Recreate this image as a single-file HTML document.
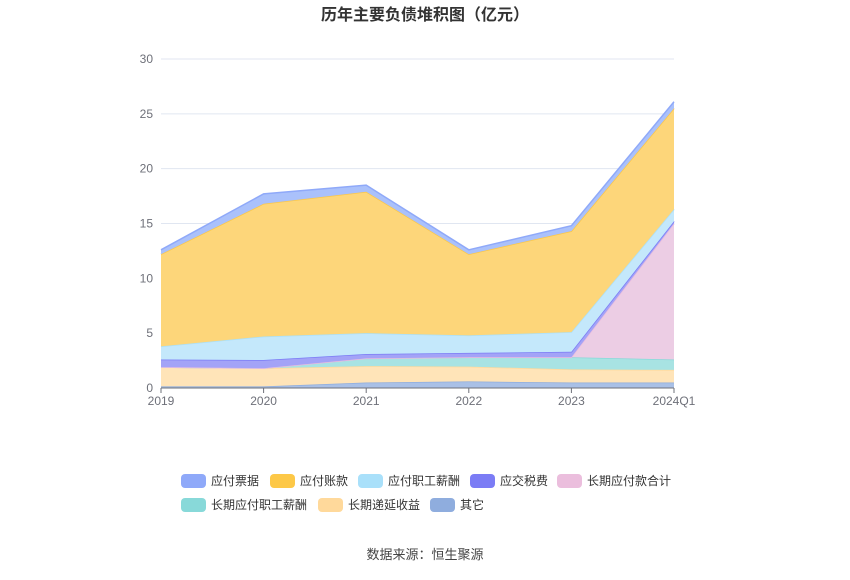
<!DOCTYPE html>
<html><head><meta charset="utf-8"><style>
body{margin:0;background:#fff;font-family:"Liberation Sans","Noto Sans CJK SC",sans-serif;}
#c{position:relative;width:850px;height:575px;}
</style></head><body>
<div id="c">
<svg id="s" width="850" height="575" xmlns="http://www.w3.org/2000/svg">
<text x="425" y="20" text-anchor="middle" font-size="16" font-weight="bold" fill="#333">历年主要负债堆积图（亿元）</text>
<g id="grid"></g><g id="areas"></g><g id="axis"></g><g id="legend"></g>
<text x="425" y="559" text-anchor="middle" font-size="13" fill="#444">数据来源：恒生聚源</text>
</svg></div>
<script>
const categories=["2019","2020","2021","2022","2023","2024Q1"];
const seriesNames=["其它","长期递延收益","长期应付职工薪酬","长期应付款合计","应交税费","应付职工薪酬","应付账款","应付票据"];
const s_other=[0.15,0.15,0.5,0.6,0.5,0.5];
const s_deferred=[1.75,1.65,1.5,1.35,1.2,1.15];
const s_ltStaff=[0,0,0.7,0.85,1.1,0.95];
const s_ltPay=[0,0,0,0,0,12.4];
const s_tax=[0.7,0.75,0.4,0.4,0.5,0.2];
const s_staff=[1.2,2.15,1.9,1.6,1.8,1.1];
const s_ap=[8.4,12.1,12.9,7.4,9.2,9.2];
const s_notes=[0.4,0.9,0.6,0.4,0.5,0.6];
const yTicks=[0,5,10,15,20,25,30];
const series=[s_other,s_deferred,s_ltStaff,s_ltPay,s_tax,s_staff,s_ap,s_notes];
const colors=["#8fadde","#ffd99b","#88d9d9","#ebbedd","#7b7cf5","#a9e0fa","#fdc847","#8fa9f9"];
const fills=["#a9c0e6","#ffe4b8","#a8e3e3","#eccde4","#a3a3f7","#c4e8fb","#fdd67a","#aac1fb"];
const X0=161,X1=674,Y0=388,Y1=59,YMAX=30;
const x=i=>X0+(X1-X0)*i/(categories.length-1);
const y=v=>Y0-(Y0-Y1)*v/YMAX;
const NS="http://www.w3.org/2000/svg";
function mk(t,a,p){const e=document.createElementNS(NS,t);for(const k in a)e.setAttribute(k,a[k]);p.appendChild(e);return e;}
const grid=document.getElementById('grid'),axis=document.getElementById('axis'),areas=document.getElementById('areas'),leg=document.getElementById('legend');
yTicks.forEach(t=>{if(t>0){const l=mk('line',{x1:X0,x2:X1,y1:y(t),y2:y(t),stroke:'#e0e6f1'},grid);}
const tx=mk('text',{x:X0-8,y:y(t)+4,'text-anchor':'end','font-size':12,fill:'#6e7079'},axis);tx.textContent=t;});
let base=categories.map(()=>0);
series.forEach((s,k)=>{const top=s.map((v,i)=>base[i]+v);
let d='M'+top.map((v,i)=>x(i)+','+y(v)).join('L');
for(let i=categories.length-1;i>=0;i--)d+='L'+x(i)+','+y(base[i]);
const a=mk('path',{d:d+'Z',fill:fills[k]},areas);
const ln=mk('polyline',{points:top.map((v,i)=>x(i)+','+y(v)).join(' '),fill:'none',stroke:colors[k],'stroke-width':1.5},areas);
base=top;});
const ax=mk('line',{x1:X0,x2:X1,y1:Y0,y2:Y0,stroke:'#6e7079'},axis);
categories.forEach((c,i)=>{const tk=mk('line',{x1:x(i),x2:x(i),y1:Y0,y2:Y0+5,stroke:'#6e7079'},axis);
const t=mk('text',{x:x(i),y:Y0+17,'text-anchor':'middle','font-size':12,fill:'#6e7079'},axis);t.textContent=c;});
const legendItems=[["应付票据",7,181,481],["应付账款",6,270,481],["应付职工薪酬",5,358,481],["应交税费",4,470,481],["长期应付款合计",3,557,481],["长期应付职工薪酬",2,181,505],["长期递延收益",1,318,505],["其它",0,430,505]];
legendItems.forEach(([n,k,lx,ly])=>{const g=mk('g',{},leg);
mk('rect',{x:lx,y:ly-7,width:25,height:14,rx:4,fill:colors[k]},g);
const t=mk('text',{x:lx+30,y:ly+4,'font-size':12,fill:'#333'},g);t.textContent=n;});
</script></body></html>
